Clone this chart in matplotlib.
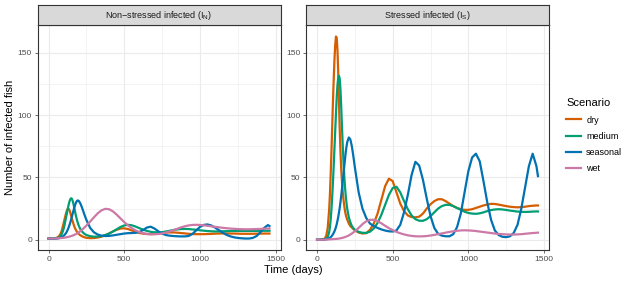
import matplotlib
matplotlib.use("Agg")
import matplotlib.pyplot as plt
from matplotlib.lines import Line2D

plt.rcParams['font.family'] = ['Liberation Sans', 'DejaVu Sans']
plt.rcParams['mathtext.default'] = 'regular'

# time grid (days): finer around the first outbreak
days = ([0, 25, 50, 60, 70, 80]
        + list(range(85, 201, 5))
        + [210, 220, 230, 240, 250]
        + list(range(275, 1451, 25))
        + [1460])

scenarios = ['dry', 'medium', 'seasonal', 'wet']
colors = {'dry': '#D55E00', 'medium': '#009E73', 'seasonal': '#0072B2', 'wet': '#CC79A7'}

# non-stressed infected (I_N)
n_dry = [1, 1, 1.5, 2, 3, 5, 6.5, 8.5, 11, 13.5, 16, 18.5, 21, 23, 24.5, 25, 24.5, 23.2,
         21.2, 19, 16.8, 14.6, 12.6, 10.8, 9.3, 8, 6.9, 6, 5.2, 4.6, 3.6, 2.9, 2.3, 1.9, 1.6,
         1.3, 1.4, 1.8, 2.5, 3.6, 5.0, 6.6, 8.0, 9.0, 9.2, 8.6, 7.5, 6.4, 5.5, 4.9, 4.6,
         4.5, 4.7, 5.0, 5.4, 5.7, 5.9, 5.9, 5.7, 5.4, 5.1, 4.8, 4.6, 4.5, 4.5, 4.5, 4.6,
         4.7, 4.9, 5.0, 5.1, 5.1, 5.0, 5.0, 4.9, 4.8, 4.8, 4.8, 4.8, 4.9, 4.9, 5.0, 5.0,
         5.0]
n_medium = [1, 1, 1.2, 1.4, 1.8, 3, 4, 5.3, 7, 9, 11.5, 14.5, 17.5, 20.5, 23.5, 26.5, 29.2,
            31.3, 32.8, 33.3, 32.7, 31, 28.5, 25.6, 22.6, 19.8, 17.2, 14.9, 12.9, 11.2, 8.6,
            6.8, 5.5, 4.5, 3.8,
            2.9, 2.5, 2.6, 3.0, 3.8, 5.0, 6.6, 8.4, 10.2, 11.5, 12.0, 11.6, 10.6, 9.3, 8.1,
            7.1, 6.4, 6.0, 5.9, 6.1, 6.6, 7.2, 7.8, 8.3, 8.6, 8.7, 8.6, 8.3, 8.0, 7.6, 7.3,
            7.0, 6.8, 6.7, 6.7, 6.8, 6.9, 7.0, 7.1, 7.1, 7.1, 7.1, 7.1, 7.1, 7.1, 7.2, 7.2,
            7.2, 7.2]
n_seasonal = [1, 1, 1, 1.1, 1.3, 1.7, 2, 2.3, 2.7, 3.2, 3.8, 4.5, 5.4, 6.4, 7.6, 9, 10.6,
              12.4, 14.4, 16.6, 18.9, 21.2, 23.5, 25.7, 27.7, 29.4, 30.7, 31.4, 31.5, 31.1,
              29.2, 26.2, 22.7, 19.2, 16,
              9.5, 6, 4.2, 3.3, 3.0, 3.1, 3.5, 4.0, 4.5, 5.0, 5.3, 5.4, 5.6, 6.2, 7.8, 9.8,
              10.5, 9.0, 6.8, 5.0, 3.8, 3.3, 3.0, 2.8, 2.7, 2.7, 3.0, 4.6, 7.4, 10.2, 11.9,
              12.3, 11.5, 9.8, 7.8, 5.8, 4.0, 2.8, 2.0, 1.5, 1.2, 1.0, 1.0, 1.5, 3.0, 6.0,
              9.5, 11.8, 11.0]
n_wet = [1, 1, 1.1, 1.2, 1.25, 1.35, 1.4, 1.5, 1.55, 1.6, 1.7, 1.8, 1.9, 2.0, 2.15, 2.3,
         2.45, 2.6, 2.8, 3.0, 3.2, 3.4, 3.65, 3.9, 4.2, 4.5, 4.85, 5.2, 5.6, 6.0, 6.9, 7.9,
         9.0, 10.2, 11.4,
         14.6, 18, 21.2, 23.6, 24.8, 24.5, 22.8, 20.2, 17.2, 14.2, 11.5, 9.3, 7.5, 6.2,
         5.3, 4.7, 4.4, 4.4, 4.6, 5.1, 5.8, 6.7, 7.7, 8.8, 9.9, 10.8, 11.5, 11.9, 12.0,
         11.9, 11.6, 11.2, 10.8, 10.4, 10.0, 9.6, 9.3, 9.0, 8.8, 8.6, 8.5, 8.4, 8.4, 8.5,
         8.6, 8.7, 8.9, 9.0, 9.0]

# stressed infected (I_S)
s_dry = [0, 0.1, 0.8, 3, 9, 24, 36, 52, 70, 90, 110, 128, 144, 156, 163, 162, 152, 134,
         110, 88, 70, 56, 46, 38, 32, 27, 23, 20, 17.8, 16, 13, 11, 9.8, 8.6, 7.6,
         5.8, 5.0, 5.3, 8, 13, 21, 32, 43, 49, 47, 38, 29, 23, 19.5, 18.2, 18, 18.5, 21,
         25, 28.5, 31, 32.5, 32.5, 31, 29, 27, 25.5, 24.5, 24, 24, 24.5, 25.5, 26.5, 27.5,
         28.3, 28.8, 28.7, 28.2, 27.6, 27, 26.5, 26.2, 26, 26.2, 26.5, 27, 27.3, 27.5,
         27.5]
s_medium = [0, 0.1, 0.4, 0.8, 2, 6, 10, 16, 24, 34, 46, 59, 73, 87, 101, 114, 124, 130,
            131.5, 129, 120, 106, 90, 75, 62, 51, 42, 35, 29, 24.5, 18, 14, 11, 9.3, 8,
            6.3, 5.6, 5.5, 6.5, 9, 13.5, 20, 28, 36, 41.5, 42.5, 38, 31, 24.5, 19.5, 16.5,
            15.3, 15.2, 16.5, 19, 22, 25, 27, 28, 28, 27, 25.5, 24, 22.5, 21.5, 21, 20.8,
            21.2, 22, 23, 23.8, 24.3, 24.5, 24.3, 23.9, 23.4, 23, 22.6, 22.4, 22.3, 22.4,
            22.6, 22.7, 22.7]
s_seasonal = [0, 0, 0.2, 0.4, 0.7, 1.2, 1.6, 2.1, 2.7, 3.5, 4.4, 5.5, 6.8, 8.3, 10.2, 12.5,
              15.2, 18.3, 21.8, 25.8, 30.3, 35.5, 41, 47, 53, 59, 65, 70.5, 75, 78.5, 82,
              80.5, 75, 67, 58,
              38, 25, 17.5, 13, 11, 9.5, 8.3, 7.4, 6.8, 6.6, 7.5, 12, 22, 36, 52, 62.5, 59.5,
              48, 33, 19, 9.5, 4.8, 3.3, 2.8, 2.8, 4.5, 10, 21, 38, 55, 66, 69, 63, 47, 30,
              16, 7.5, 3.8, 2.4, 2.1, 2.8, 5.5, 12, 25, 42, 59, 69, 59, 51]
s_wet = [0, 0, 0.1, 0.15, 0.2, 0.3, 0.35, 0.4, 0.45, 0.5, 0.5, 0.55, 0.6, 0.65, 0.7, 0.75,
         0.8, 0.9, 1.0, 1.1, 1.2, 1.3, 1.45, 1.6, 1.8, 2.0, 2.2, 2.4, 2.65, 2.9, 3.5, 4.2,
         5.0, 5.9, 6.8,
         9.5, 12.5, 14.8, 16, 16, 15, 13.2, 11.2, 9.3, 7.7, 6.3, 5.2, 4.3, 3.6, 3.1, 2.8,
         2.7, 2.8, 3.0, 3.4, 3.9, 4.5, 5.1, 5.7, 6.3, 6.8, 7.2, 7.5, 7.6, 7.5, 7.3, 7.0,
         6.6, 6.2, 5.8, 5.4, 5.0, 4.7, 4.5, 4.3, 4.2, 4.2, 4.3, 4.5, 4.8, 5.1, 5.4, 5.6,
         5.7]

panels = [
    ("Non\u2212stressed infected (I$_{N}$)",
     {'dry': n_dry, 'medium': n_medium, 'seasonal': n_seasonal, 'wet': n_wet}),
    ("Stressed infected (I$_{S}$)",
     {'dry': s_dry, 'medium': s_medium, 'seasonal': s_seasonal, 'wet': s_wet}),
]

fig = plt.figure(figsize=(6.34, 2.82), dpi=100)
W, H = 634, 282
dark = '#333333'

lefts = [37.5, 306]
pw = 243
top_px, bot_px = 25, 250
for (title, series), lx in zip(panels, lefts):
    ax = fig.add_axes([lx / W, 1 - bot_px / H, pw / W, (bot_px - top_px) / H])
    for sc in scenarios:
        ax.plot(days, series[sc], color=colors[sc], lw=1.6, solid_joinstyle='round')
    ax.set_xlim(-73, 1533)
    ax.set_ylim(-8.2, 172.2)
    ax.set_xticks([0, 500, 1000, 1500])
    ax.set_yticks([0, 50, 100, 150])
    ax.set_xticks([250, 750, 1250], minor=True)
    ax.set_yticks([25, 75, 125], minor=True)
    ax.grid(True, which='major', color='#EBEBEB', lw=0.8)
    ax.grid(True, which='minor', color='#EBEBEB', lw=0.4)
    ax.set_axisbelow(True)
    ax.tick_params(which='minor', length=0)
    ax.tick_params(which='major', length=2.5, width=0.5, color=dark,
                   labelsize=6, labelcolor='#4D4D4D', pad=1.5)
    for sp in ax.spines.values():
        sp.set_color(dark)
        sp.set_linewidth(0.8)
    # facet strip
    sax = fig.add_axes([lx / W, 1 - top_px / H, pw / W, 20 / H])
    sax.set_facecolor('#D9D9D9')
    sax.set_xticks([])
    sax.set_yticks([])
    for sp in sax.spines.values():
        sp.set_color(dark)
        sp.set_linewidth(0.8)
    sax.text(0.5, 0.5, title, ha='center', va='center', fontsize=6.5,
             color='#1A1A1A', transform=sax.transAxes)

fig.text(293 / W, 1 - 270 / H, "Time (days)", ha='center', va='center', fontsize=8)
fig.text(10 / W, 1 - 137 / H, "Number of infected fish", ha='center', va='center',
         rotation=90, fontsize=8)

handles = [Line2D([0], [0], color=colors[sc], lw=1.6) for sc in scenarios]
leg = fig.legend(handles, scenarios, title="Scenario", loc='upper left',
                 bbox_to_anchor=(560 / W, 1 - 92 / H), frameon=False,
                 fontsize=6.5, title_fontsize=8, handlelength=1.6,
                 handletextpad=0.6, labelspacing=0.8, borderpad=0.2)
leg._legend_box.align = 'left'

fig.savefig("out.png", dpi=100)
